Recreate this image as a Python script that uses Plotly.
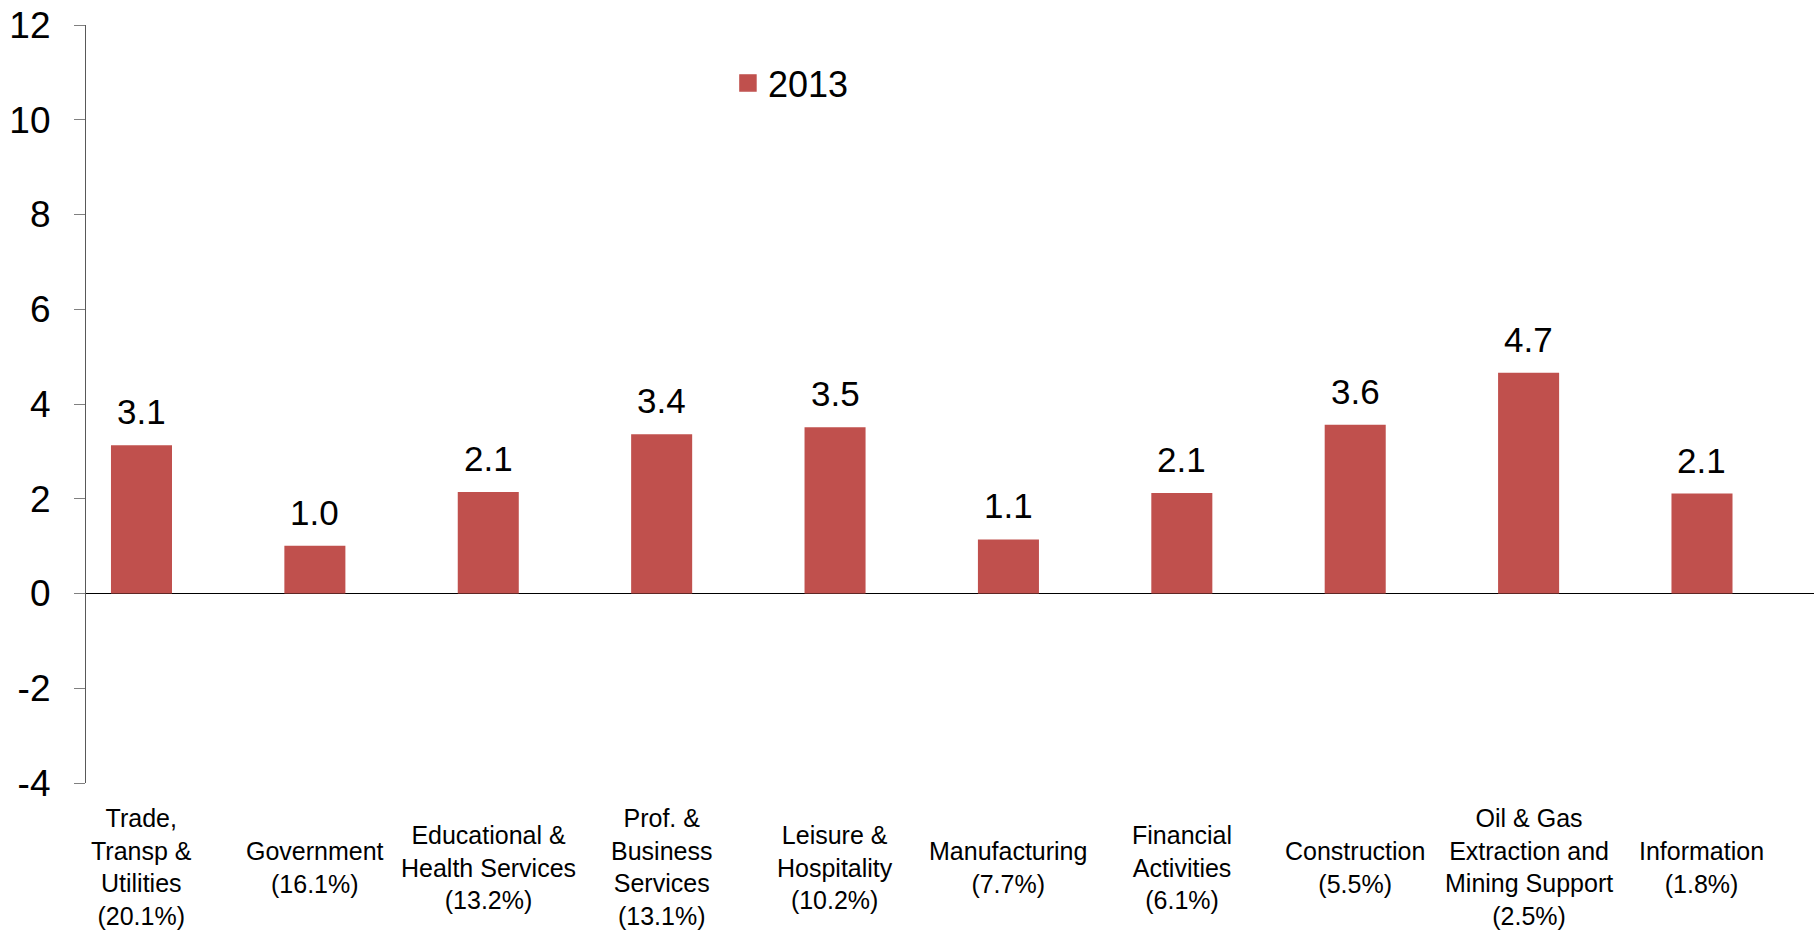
import plotly.graph_objects as go

categories = [
    "Trade,<br>Transp &<br>Utilities<br>(20.1%)",
    "Government<br>(16.1%)",
    "Educational &<br>Health Services<br>(13.2%)",
    "Prof. &<br>Business<br>Services<br>(13.1%)",
    "Leisure &<br>Hospitality<br>(10.2%)",
    "Manufacturing<br>(7.7%)",
    "Financial<br>Activities<br>(6.1%)",
    "Construction<br>(5.5%)",
    "Oil & Gas<br>Extraction and<br>Mining Support<br>(2.5%)",
    "Information<br>(1.8%)",
]
values_2013 = [3.13, 1.01, 2.14, 3.36, 3.51, 1.14, 2.12, 3.56, 4.66, 2.11]
series_name = "2013"
y_ticks = [-4, -2, 0, 2, 4, 6, 8, 10, 12]

BAR = "#C0504D"
FONT = "Liberation Sans, Arial, sans-serif"
xs = list(range(len(categories)))

fig = go.Figure()
fig.add_trace(go.Bar(
    x=xs, y=values_2013, width=0.352, marker=dict(color=BAR, line=dict(width=0)),
    showlegend=False, hoverinfo="y",
))
# legend entry
fig.add_trace(go.Scatter(
    x=[None], y=[None], mode="markers", name=series_name,
    marker=dict(symbol="square", size=16, color=BAR, line=dict(color=BAR, width=1.5)),
))

annotations = []
for x, v in zip(xs, values_2013):
    annotations.append(dict(
        x=x, y=v, xref="x", yref="y", text=f"{v:.1f}", showarrow=False,
        yanchor="bottom", yshift=12, font=dict(size=35, color="#000000", family=FONT),
    ))
for x, c in zip(xs, categories):
    annotations.append(dict(
        x=x, y=-0.111, xref="x", yref="paper", text=c, showarrow=False,
        yanchor="middle", xanchor="center", align="center",
        font=dict(size=25, color="#000000", family=FONT),
    ))

fig.update_layout(
    width=1814, height=934,
    margin=dict(l=86, r=0, t=25, b=151),
    paper_bgcolor="white", plot_bgcolor="white",
    font=dict(family=FONT, color="#000000"),
    bargap=0.65,
    showlegend=True,
    legend=dict(
        x=0.3715, y=0.9235, xanchor="left", yanchor="middle",
        font=dict(size=36, family=FONT, color="#000000"),
        bgcolor="rgba(0,0,0,0)",
    ),
    annotations=annotations,
    xaxis=dict(
        range=[-0.32, 9.646], showticklabels=False, showgrid=False,
        zeroline=False, showline=False, ticks="",
    ),
    yaxis=dict(
        range=[-4, 12], tickvals=y_ticks, ticktext=[str(t) for t in y_ticks],
        showgrid=False, zeroline=True, zerolinecolor="#000000", zerolinewidth=1.2,
        showline=True, linecolor="#595959", linewidth=1.2,
        ticks="outside", ticklen=11, tickcolor="#808080", tickwidth=1.2,
        tickfont=dict(size=37, family=FONT, color="#000000"),
        ticklabelstandoff=16,
    ),
)

fig.write_html("out.html")
